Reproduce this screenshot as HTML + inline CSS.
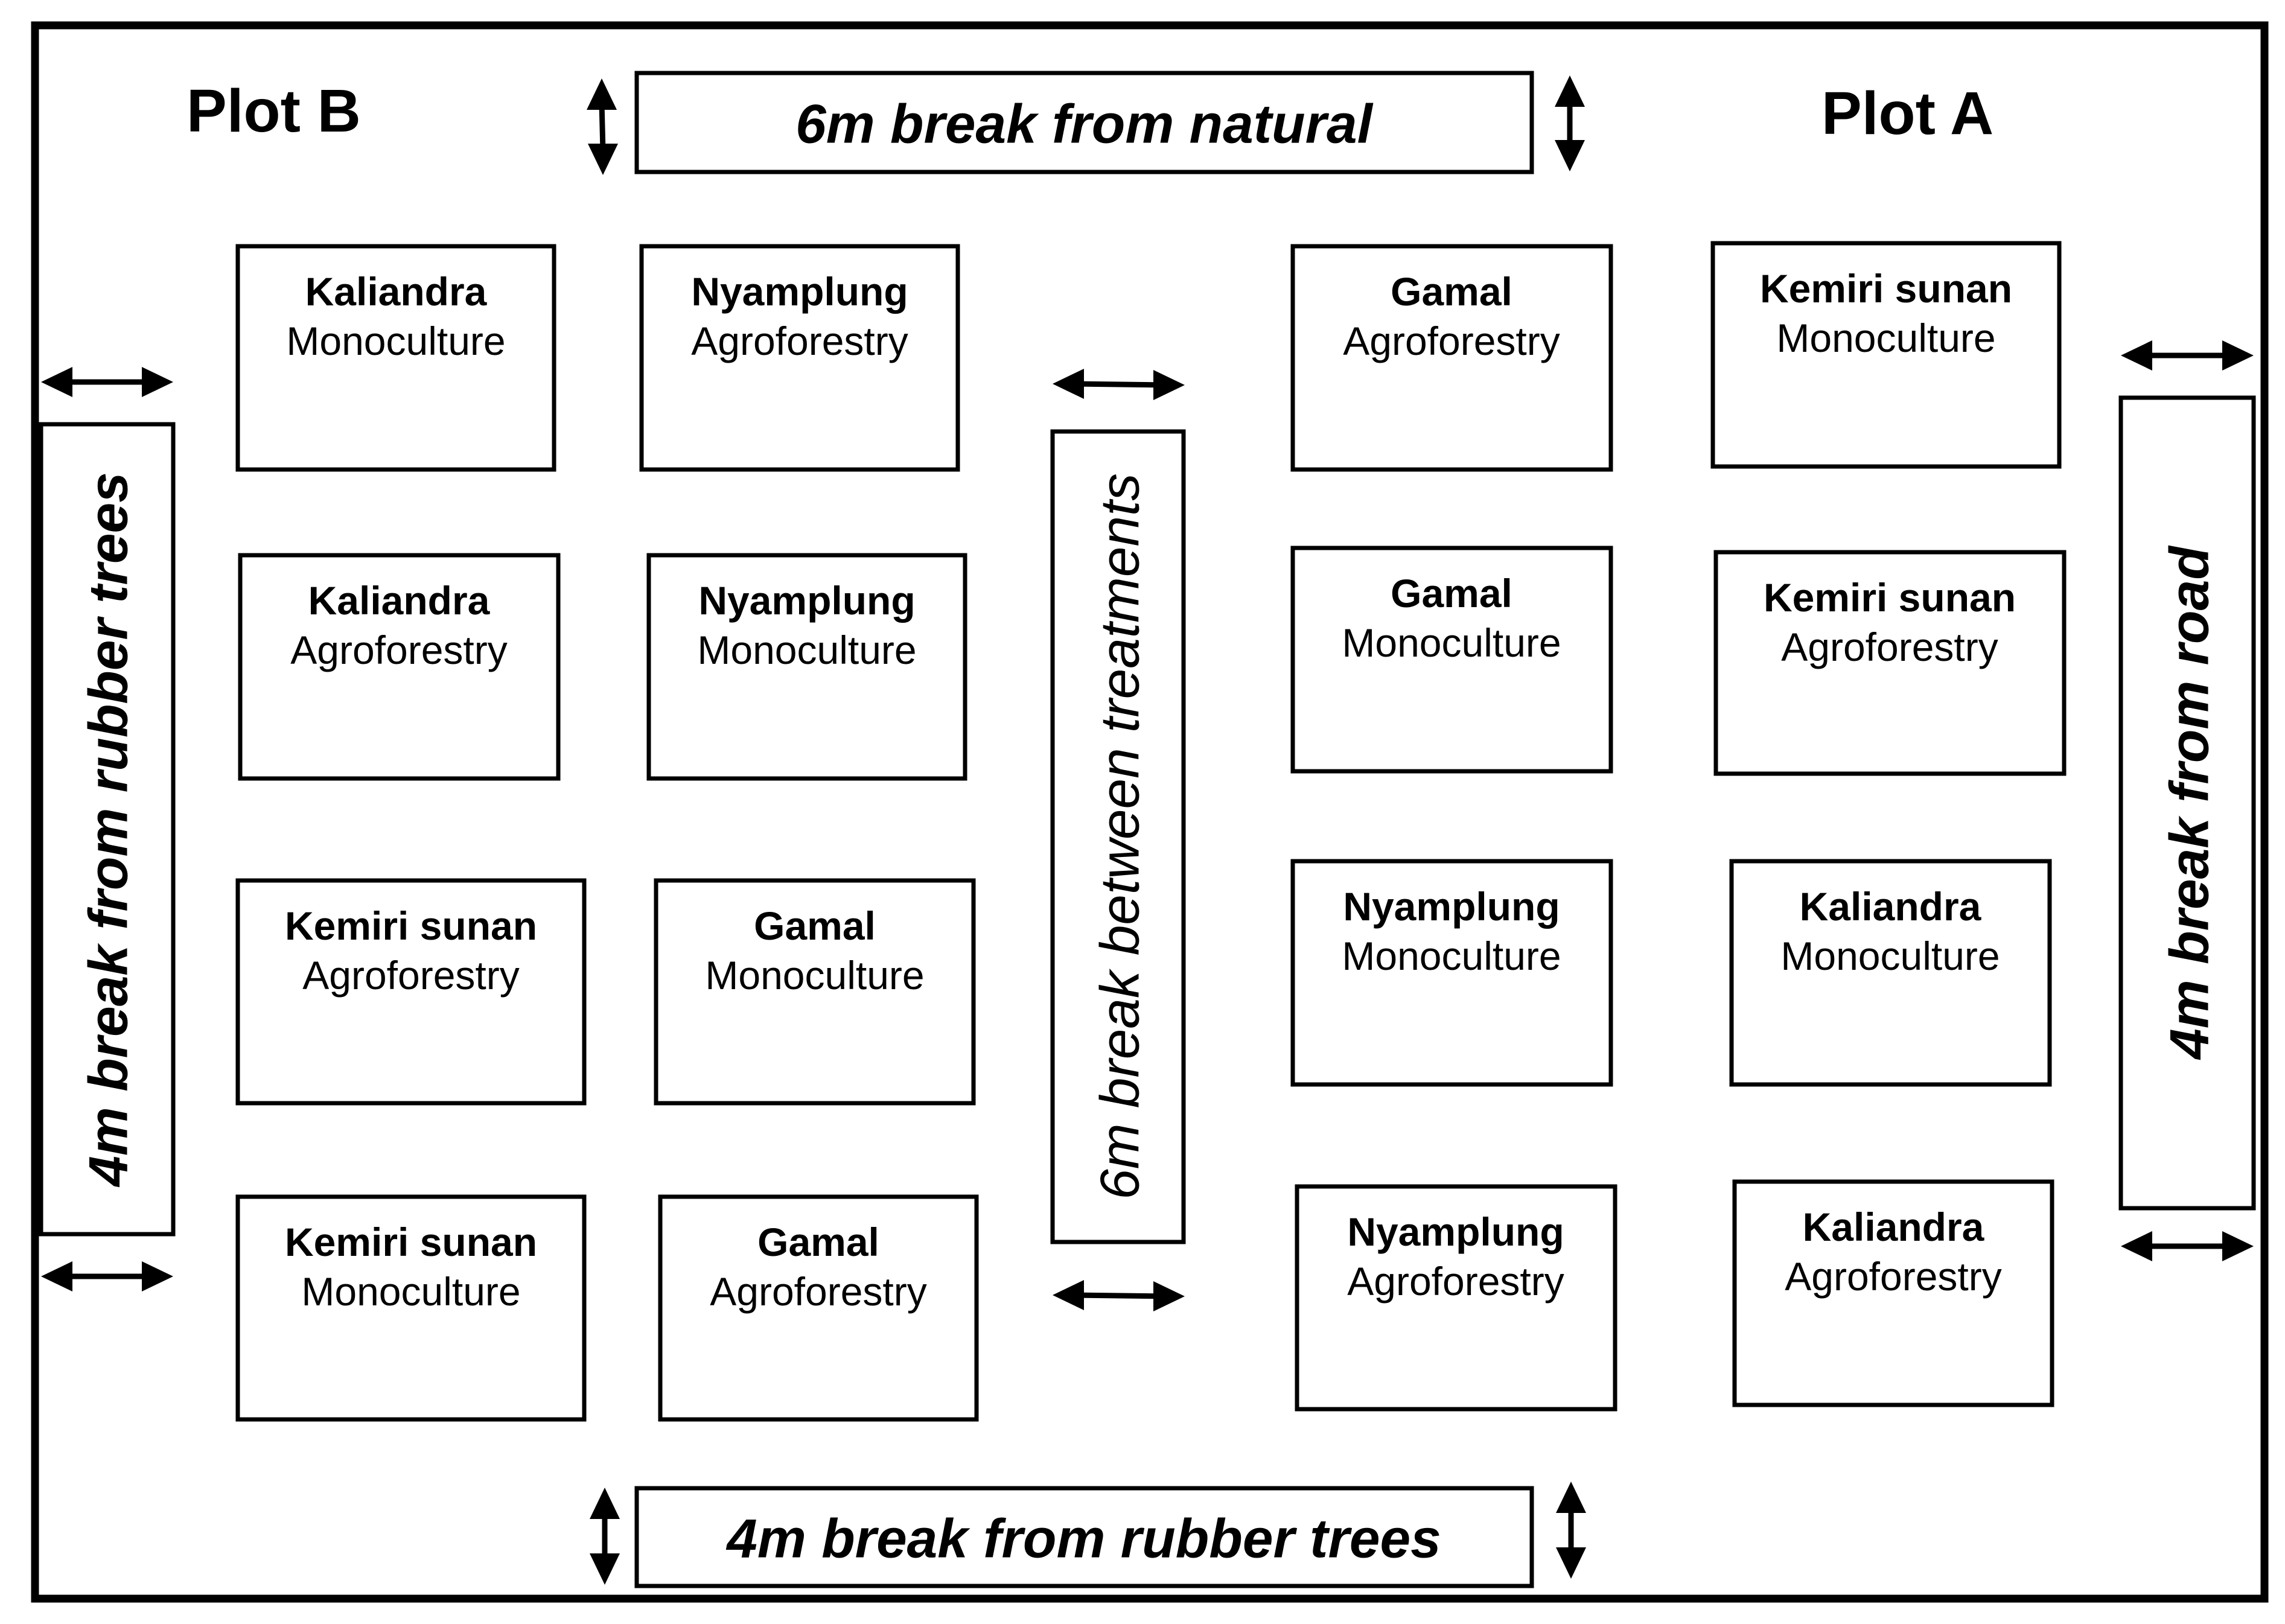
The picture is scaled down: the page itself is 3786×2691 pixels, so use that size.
<!DOCTYPE html>
<html><head><meta charset="utf-8"><style>
html,body{margin:0;padding:0;background:#fff}
svg{display:block}
text{font-family:"Liberation Sans",Arial,sans-serif;fill:#000}
.t1{font-weight:bold;font-size:66px;text-anchor:middle}
.t2{font-size:66px;text-anchor:middle}
.bk{font-weight:bold;font-style:italic;font-size:91px;text-anchor:middle;dominant-baseline:central}
.bx{fill:none;stroke:#000;stroke-width:7}
.sh{stroke:#000;stroke-width:9}
</style></head><body>
<svg width="3786" height="2691" viewBox="0 0 3786 2691" xmlns="http://www.w3.org/2000/svg">
<rect x="58" y="42" width="3694" height="2607" fill="none" stroke="#000" stroke-width="13"/>
<text x="309" y="218" font-size="100" font-weight="bold">Plot B</text>
<text x="3018" y="222" font-size="100" font-weight="bold">Plot A</text>

<rect class="bx" x="1055" y="121" width="1483" height="164"/>
<text class="bk" x="1796" y="206">6m break from natural</text>
<rect class="bx" x="1055" y="2466" width="1483" height="162"/>
<text class="bk" x="1796" y="2550">4m break from rubber trees</text>
<rect class="bx" x="68" y="703" width="219" height="1342"/>
<text class="bk" transform="translate(180,1374) rotate(-90)">4m break from rubber trees</text>
<rect class="bx" x="1744" y="715" width="217" height="1343"/>
<text class="bk" style="font-weight:normal" transform="translate(1856,1386) rotate(-90)">6m break between treatments</text>
<rect class="bx" x="3514" y="659" width="220" height="1343"/>
<text class="bk" transform="translate(3628,1330) rotate(-90)">4m break from road</text>

<g fill="#000">
<!-- vertical arrows -->
<line class="sh" x1="997" y1="170" x2="999" y2="250"/><polygon points="997,130 972,182 1022,182"/><polygon points="999,290 974,238 1024,238"/>
<line class="sh" x1="2601" y1="165" x2="2601" y2="245"/><polygon points="2601,125 2576,177 2626,177"/><polygon points="2601,284 2576,232 2626,232"/>
<line class="sh" x1="1002" y1="2505" x2="1002" y2="2585"/><polygon points="1002,2465 977,2517 1027,2517"/><polygon points="1002,2626 977,2574 1027,2574"/>
<line class="sh" x1="2603" y1="2495" x2="2603" y2="2575"/><polygon points="2603,2455 2578,2507 2628,2507"/><polygon points="2603,2616 2578,2564 2628,2564"/>
<!-- horizontal arrows -->
<line class="sh" x1="100" y1="633" x2="255" y2="633"/><polygon points="68,633 120,608 120,658"/><polygon points="287,633 235,608 235,658"/>
<line class="sh" x1="100" y1="2115" x2="255" y2="2115"/><polygon points="68,2115 120,2090 120,2140"/><polygon points="287,2115 235,2090 235,2140"/>
<line class="sh" x1="1776" y1="636" x2="1931" y2="638"/><polygon points="1744,636 1796,611 1796,661"/><polygon points="1963,638 1911,613 1911,663"/>
<line class="sh" x1="1776" y1="2146" x2="1931" y2="2148"/><polygon points="1744,2146 1796,2121 1796,2171"/><polygon points="1963,2148 1911,2123 1911,2173"/>
<line class="sh" x1="3546" y1="589" x2="3702" y2="589"/><polygon points="3514,589 3566,564 3566,614"/><polygon points="3734,589 3682,564 3682,614"/>
<line class="sh" x1="3546" y1="2065" x2="3702" y2="2065"/><polygon points="3514,2065 3566,2040 3566,2090"/><polygon points="3734,2065 3682,2040 3682,2090"/>
</g>

<g>
<rect class="bx" x="394" y="408" width="524" height="370"/><text class="t1" x="656" y="506">Kaliandra</text><text class="t2" x="656" y="588">Monoculture</text>
<rect class="bx" x="398" y="920" width="527" height="370"/><text class="t1" x="661" y="1018">Kaliandra</text><text class="t2" x="661" y="1100">Agroforestry</text>
<rect class="bx" x="394" y="1459" width="574" height="369"/><text class="t1" x="681" y="1557">Kemiri sunan</text><text class="t2" x="681" y="1639">Agroforestry</text>
<rect class="bx" x="394" y="1983" width="574" height="369"/><text class="t1" x="681" y="2081">Kemiri sunan</text><text class="t2" x="681" y="2163">Monoculture</text>

<rect class="bx" x="1063" y="408" width="524" height="370"/><text class="t1" x="1325" y="506">Nyamplung</text><text class="t2" x="1325" y="588">Agroforestry</text>
<rect class="bx" x="1075" y="920" width="524" height="370"/><text class="t1" x="1337" y="1018">Nyamplung</text><text class="t2" x="1337" y="1100">Monoculture</text>
<rect class="bx" x="1087" y="1459" width="526" height="369"/><text class="t1" x="1350" y="1557">Gamal</text><text class="t2" x="1350" y="1639">Monoculture</text>
<rect class="bx" x="1094" y="1983" width="524" height="369"/><text class="t1" x="1356" y="2081">Gamal</text><text class="t2" x="1356" y="2163">Agroforestry</text>

<rect class="bx" x="2142" y="408" width="527" height="370"/><text class="t1" x="2405" y="506">Gamal</text><text class="t2" x="2405" y="588">Agroforestry</text>
<rect class="bx" x="2142" y="908" width="527" height="370"/><text class="t1" x="2405" y="1006">Gamal</text><text class="t2" x="2405" y="1088">Monoculture</text>
<rect class="bx" x="2142" y="1427" width="527" height="370"/><text class="t1" x="2405" y="1525">Nyamplung</text><text class="t2" x="2405" y="1607">Monoculture</text>
<rect class="bx" x="2149" y="1966" width="527" height="369"/><text class="t1" x="2412" y="2064">Nyamplung</text><text class="t2" x="2412" y="2146">Agroforestry</text>

<rect class="bx" x="2838" y="403" width="574" height="370"/><text class="t1" x="3125" y="501">Kemiri sunan</text><text class="t2" x="3125" y="583">Monoculture</text>
<rect class="bx" x="2843" y="915" width="577" height="367"/><text class="t1" x="3131" y="1013">Kemiri sunan</text><text class="t2" x="3131" y="1095">Agroforestry</text>
<rect class="bx" x="2869" y="1427" width="527" height="370"/><text class="t1" x="3132" y="1525">Kaliandra</text><text class="t2" x="3132" y="1607">Monoculture</text>
<rect class="bx" x="2874" y="1958" width="526" height="370"/><text class="t1" x="3137" y="2056">Kaliandra</text><text class="t2" x="3137" y="2138">Agroforestry</text>
</g>
</svg>
</body></html>
